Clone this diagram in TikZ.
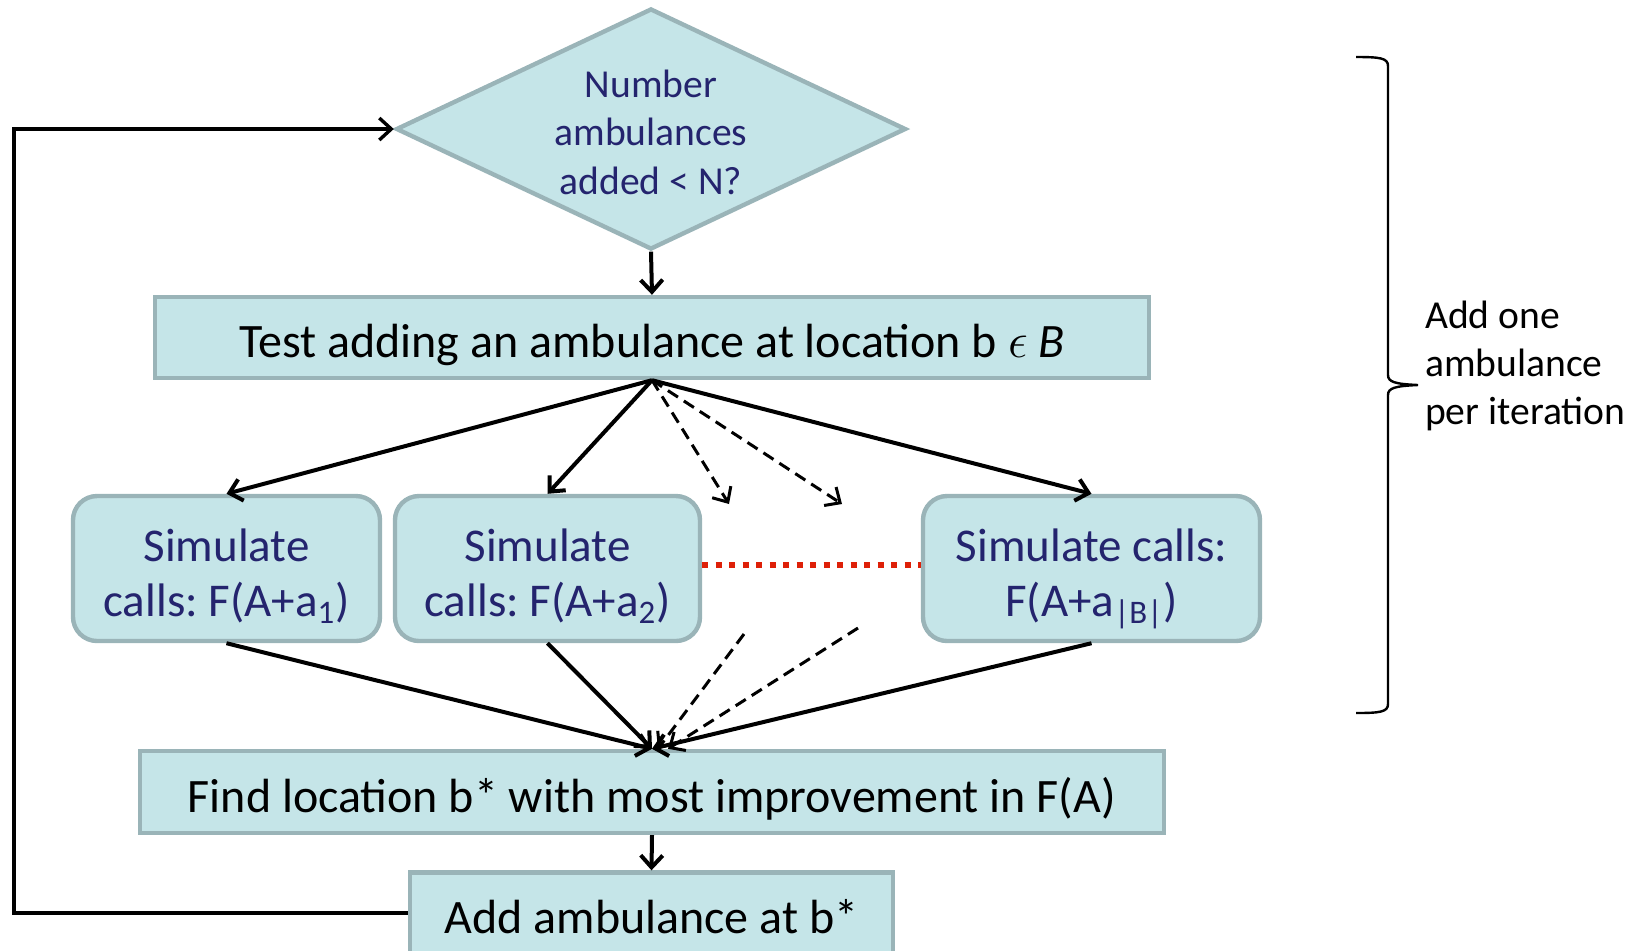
\documentclass[tikz,border=0pt]{standalone}
\usepackage{fontspec}
\setmainfont{Carlito}
\usetikzlibrary{shapes.geometric,arrows.meta,calc}
\frenchspacing

\definecolor{boxfill}{RGB}{197,229,232}
\definecolor{boxedge}{RGB}{154,180,184}
\definecolor{navytext}{RGB}{36,36,110}
\definecolor{dotred}{RGB}{222,32,8}

\tikzset{
  flowbox/.style={draw=boxedge, fill=boxfill, line width=2.2pt, inner sep=0pt,
                  text height=20pt, text depth=0pt, font=\fontsize{24}{28}\selectfont},
  simbox/.style={flowbox, rounded corners=12pt, text=navytext, align=center, minimum height=72.5pt,
                 text height=48pt, font=\fontsize{23.5}{27.5}\selectfont},
  arr/.style={line width=2pt, -{Straight Barb[length=6pt,width=11pt]}},
  dasharr/.style={arr, line width=1.5pt, dash pattern=on 6pt off 3.5pt},
}

\begin{document}
\begin{tikzpicture}[x=0.5pt,y=-0.5pt]
    \useasboundingbox (0,0) rectangle (1645,950);

    % Decision
    \node[flowbox, diamond, aspect=2.1, text=navytext, align=center,
          minimum width=255pt, minimum height=120.5pt, text height=65pt,
          font=\fontsize{19.8}{24.1}\selectfont] (check) at (651,129)
          {Number\\ambulances\\added < N?};

    % Test and simulate
    \node[flowbox, minimum width=497pt, minimum height=40.5pt] (test) at (652,337.5)
          {Test adding an ambulance at location b $\epsilon$ \textit{B}};
    \node[simbox, minimum width=153.5pt] (sim1) at (226.5,568.5) {Simulate\\calls: F(A+a\textsubscript{1})};
    \node[simbox, minimum width=152.5pt] (sim2) at (547.5,568.5) {Simulate\\calls: F(A+a\textsubscript{2})};
    \node[simbox, minimum width=168.5pt] (sim3) at (1091.5,568.5) {Simulate calls:\\F(A+a\textsubscript{|B|})};

    % Choose and add
    \node[flowbox, minimum width=512pt, minimum height=41pt] (find) at (652,792)
          {Find location b* with most improvement in F(A)};
    \node[flowbox, minimum width=241.5pt, minimum height=40.5pt] (add) at (651.5,913)
          {Add ambulance at b*};

    % Free ends of the dashed arrows
    \coordinate (d1) at (729,504);
    \coordinate (d2) at (842,504);
    \coordinate (u1) at (744,634);
    \coordinate (u2) at (858,628);

    % Connectors
    \draw[arr] (check.south) -- (test.north);
    \draw[arr] (test.south) -- (sim1.north);
    \draw[arr] (test.south) -- (sim2.north);
    \draw[arr] (test.south) -- (sim3.north);
    \draw[dasharr] (test.south) -- (d1);
    \draw[dasharr] (test.south) -- (d2);
    \draw[arr] (sim1.south) -- (find.north);
    \draw[arr] (sim2.south) -- (find.north);
    \draw[arr] (sim3.south) -- (find.north);
    \draw[dasharr] (u1) -- ([xshift=3pt]find.north);
    \draw[dasharr] (u2) -- ([xshift=8pt]find.north);
    \draw[arr] (find.south) -- (add.north);
    \draw[dotred, line width=3.2pt, dash pattern=on 3pt off 3.75pt]
        ([yshift=1.75pt]sim2.east) -- ([yshift=1.75pt]sim3.west);

    % Loop back
    \draw[arr, line width=1.7pt] (add.west) -- (14,913) -- (14,129) -- (check.west);

    % Brace
    \draw[line width=1.2pt] (1356,57) .. controls (1380,57) and (1388,58) .. (1388,66)
        -- (1388,375) .. controls (1388,382) and (1395,384) .. (1418,385)
        .. controls (1395,386) and (1388,388) .. (1388,395)
        -- (1388,704) .. controls (1388,712) and (1380,713) .. (1356,713);
    \node[anchor=west, align=left, font=\fontsize{19.8}{24}\selectfont] (note) at (1418,366)
          {Add one\\ambulance\\per iteration};
\end{tikzpicture}
\end{document}
